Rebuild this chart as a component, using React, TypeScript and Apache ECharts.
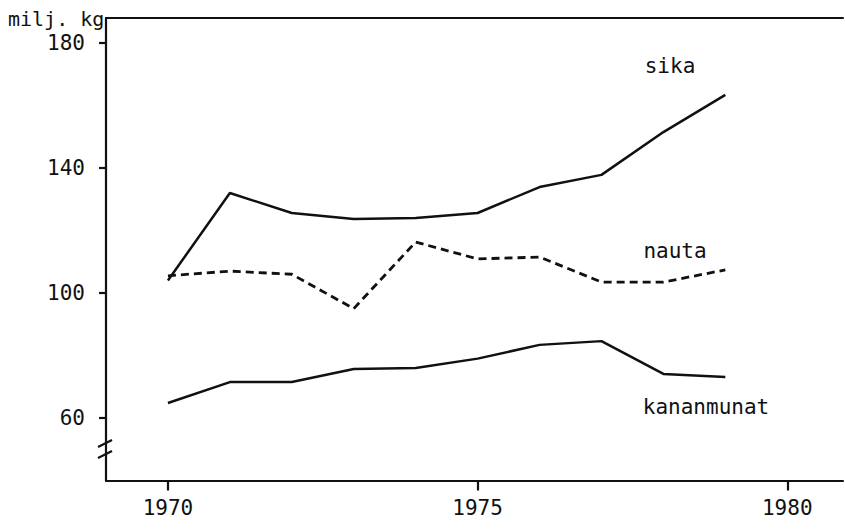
import React, { useEffect, useRef } from "react";
import * as echarts from "echarts";

const years = [1970, 1971, 1972, 1973, 1974, 1975, 1976, 1977, 1978, 1979];
const sika = [104, 132, 125.6, 123.7, 124, 125.6, 133.9, 137.8, 151.5, 163.4];
const nauta = [105.5, 107, 106, 95, 116.3, 110.9, 111.5, 103.5, 103.5, 107.4];
const kananmunat = [64.8, 71.5, 71.5, 75.7, 76, 79, 83.4, 84.6, 74.1, 73.1];
const yTicks = [60, 100, 140, 180];
const xTicks = [1970, 1975, 1980];
const seriesNames = ["sika", "nauta", "kananmunat"];
const unitLabel = "milj. kg";

const FONT = "'DejaVu Sans Mono', monospace";
const INK = "#111";

export default function App() {
  const ref = useRef<HTMLDivElement>(null);

  useEffect(() => {
    if (!ref.current) return;
    const chart = echarts.init(ref.current, undefined, { renderer: "svg" });
    const toPairs = (vals: number[]) => years.map((y, i) => [y, vals[i]]);
    const lineSeries = (name: string, vals: number[], dashed: boolean) => ({
      name,
      type: "line",
      data: toPairs(vals),
      showSymbol: false,
      symbol: "none",
      lineStyle: {
        color: INK,
        width: dashed ? 2.8 : 2.5,
        type: dashed ? [8, 5] : "solid",
      },
      z: 3,
    });
    chart.setOption({
      animation: false,
      backgroundColor: "#fff",
      grid: { left: 106, right: 2, top: 18, bottom: 49.5 },
      xAxis: [
        {
          type: "value",
          min: 1969,
          max: 1980.9,
          axisLine: { show: true, lineStyle: { color: INK, width: 2.2 } },
          axisTick: {
            show: true,
            customValues: xTicks,
            length: 10,
            lineStyle: { color: INK, width: 2.2 },
          },
          axisLabel: {
            customValues: xTicks,
            formatter: (v: number) => String(v),
            margin: 17,
            color: INK,
            fontFamily: FONT,
            fontSize: 21,
          },
          splitLine: { show: false },
        },
        {
          type: "value",
          position: "top",
          min: 1969,
          max: 1980.9,
          axisLine: { show: true, lineStyle: { color: INK, width: 2 } },
          axisTick: { show: false },
          axisLabel: { show: false },
          splitLine: { show: false },
        },
      ],
      yAxis: {
        type: "value",
        min: 40,
        max: 188,
        axisLine: { show: true, lineStyle: { color: INK, width: 2.2 } },
        axisTick: {
          show: true,
          customValues: yTicks,
          length: 7,
          lineStyle: { color: INK, width: 2.2 },
        },
        axisLabel: {
          customValues: yTicks,
          formatter: (v: number) => String(v),
          margin: 21,
          color: INK,
          fontFamily: FONT,
          fontSize: 21,
        },
        splitLine: { show: false },
      },
      series: [
        lineSeries(seriesNames[0], sika, false),
        lineSeries(seriesNames[1], nauta, true),
        lineSeries(seriesNames[2], kananmunat, false),
      ],
    });

    const ax = chart.convertToPixel({ xAxisIndex: 0 }, 1969) as number;
    const b1 = chart.convertToPixel({ yAxisIndex: 0 }, 52) as number;
    const b2 = chart.convertToPixel({ yAxisIndex: 0 }, 48.5) as number;
    const textStyle = { fill: INK, font: `21px ${FONT}` };
    chart.setOption({
      graphic: [
        {
          type: "text",
          left: 8,
          top: 9,
          style: { fill: INK, font: `20px ${FONT}`, text: unitLabel },
        },
        {
          type: "text",
          x: 670,
          y: 66,
          style: { ...textStyle, text: seriesNames[0], align: "center", verticalAlign: "middle" },
        },
        {
          type: "text",
          x: 675,
          y: 251,
          style: { ...textStyle, text: seriesNames[1], align: "center", verticalAlign: "middle" },
        },
        {
          type: "text",
          x: 706,
          y: 407,
          style: { ...textStyle, text: seriesNames[2], align: "center", verticalAlign: "middle" },
        },
        {
          type: "line",
          shape: { x1: ax - 8, y1: b1 + 4, x2: ax + 6, y2: b1 - 3 },
          style: { stroke: INK, lineWidth: 2.2 },
        },
        {
          type: "line",
          shape: { x1: ax - 8, y1: b2 + 4, x2: ax + 6, y2: b2 - 3 },
          style: { stroke: INK, lineWidth: 2.2 },
        },
      ],
    });

    return () => chart.dispose();
  }, []);

  return (
    <div
      ref={ref}
      style={{ position: "fixed", left: 0, top: 0, width: 845, height: 530, background: "#fff" }}
    />
  );
}
